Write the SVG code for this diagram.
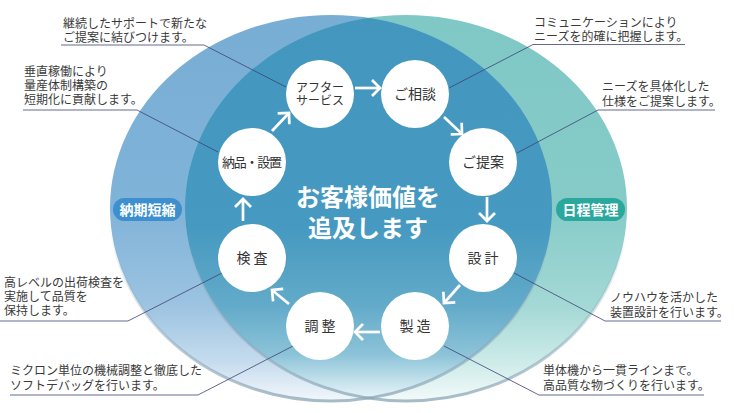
<svg xmlns="http://www.w3.org/2000/svg" width="734" height="413" viewBox="0 0 734 413">
<style>
.node circle{fill:#fff}
.nl{font-family:"Noto Sans CJK JP","Noto Sans",sans-serif;font-size:14px;fill:#333;text-anchor:middle}
.ann{font-family:"Noto Sans CJK JP","Noto Sans",sans-serif;font-size:12px;fill:#3a3a3a}
.lead{fill:none;stroke:#3d4273;stroke-width:0.8}
.arr{fill:none;stroke:#fff;stroke-width:2.7;marker-end:url(#ah)}
.badge{font-family:"Noto Sans CJK JP","Noto Sans",sans-serif;font-size:14px;font-weight:bold;fill:#fff;text-anchor:middle}
.title{font-family:"Noto Sans CJK JP","Noto Sans",sans-serif;font-size:24px;font-weight:bold;fill:#fff;text-anchor:middle}
</style>
<defs>
<linearGradient id="gL" gradientUnits="userSpaceOnUse" x1="0" y1="15" x2="0" y2="401">
<stop offset="0" stop-color="#78add4"/><stop offset="0.5" stop-color="#80b3d8"/><stop offset="0.75" stop-color="#9cc3e1"/><stop offset="0.9" stop-color="#c6dcee"/><stop offset="1" stop-color="#f2f7fb"/>
</linearGradient>
<linearGradient id="gR" gradientUnits="userSpaceOnUse" x1="0" y1="15" x2="0" y2="401">
<stop offset="0" stop-color="#7fc8c6"/><stop offset="0.5" stop-color="#86cbc8"/><stop offset="0.75" stop-color="#a3d8d5"/><stop offset="0.9" stop-color="#cdebe9"/><stop offset="1" stop-color="#f3faf9"/>
</linearGradient>
<linearGradient id="gD" gradientUnits="userSpaceOnUse" x1="0" y1="15" x2="0" y2="401">
<stop offset="0" stop-color="#4396be"/><stop offset="0.55" stop-color="#4699c0"/><stop offset="0.75" stop-color="#62aac9"/><stop offset="0.88" stop-color="#8cc3d8"/><stop offset="0.95" stop-color="#c5e2ec"/><stop offset="1" stop-color="#eef7fa"/>
</linearGradient>
<linearGradient id="gRim" gradientUnits="userSpaceOnUse" x1="0" y1="15" x2="0" y2="401">
<stop offset="0" stop-color="#8aa5b5" stop-opacity="0"/><stop offset="0.55" stop-color="#8aa5b5" stop-opacity="0"/><stop offset="1" stop-color="#8aa5b5" stop-opacity="0.75"/>
</linearGradient>
<clipPath id="cL"><ellipse cx="331" cy="208" rx="221" ry="193"/></clipPath>
<marker id="ah" markerUnits="userSpaceOnUse" markerWidth="20" markerHeight="20" viewBox="-10 -10 20 20" refX="0" refY="0" orient="auto" overflow="visible">
<path d="M-8,-8 L0,0 L-8,8" fill="none" stroke="#fff" stroke-width="2.7"/>
</marker>
</defs>

<g id="background">
<ellipse cx="331" cy="208" rx="221" ry="193" fill="url(#gL)"/>
<ellipse cx="406" cy="208" rx="221" ry="193" fill="url(#gR)"/>
<ellipse cx="406" cy="208" rx="221" ry="193" fill="url(#gD)" clip-path="url(#cL)"/>
<ellipse cx="331" cy="208" rx="221" ry="193" fill="none" stroke="url(#gRim)" stroke-width="3"/>
<ellipse cx="406" cy="208" rx="221" ry="193" fill="none" stroke="url(#gRim)" stroke-width="3"/>
</g>

<g id="badge-noki">
<rect x="113" y="198" width="69" height="23" rx="11.5" fill="#3d8fcf"/>
<text class="badge" x="147.5" y="215">納期短縮</text>
</g>
<g id="badge-nittei">
<rect x="556" y="198" width="69" height="23" rx="11.5" fill="#2aa89e"/>
<text class="badge" x="590.5" y="215">日程管理</text>
</g>

<g id="center-title">
<text class="title" x="368" y="206">お客様価値を<tspan x="368" dy="31">追及します</tspan></text>
</g>

<g id="connectors">
<path class="arr" d="M355,88 H380"/>
<path class="arr" d="M444,117 L462,134"/>
<path class="arr" d="M487,197 V221"/>
<path class="arr" d="M460,285 L444,303"/>
<path class="arr" d="M380,332 H355"/>
<path class="arr" d="M289,304 L272,290"/>
<path class="arr" d="M243,221 V199"/>
<path class="arr" d="M272,131 L289,113"/>
<path class="lead" d="M61,45 H204 L286,87"/>
<path class="lead" d="M23,110 H137 L218,152"/>
<path class="lead" d="M685,44.5 H533 L449,88"/>
<path class="lead" d="M715,110 H598 L517,153"/>
<path class="lead" d="M0,321 H128 L222,273"/>
<path class="lead" d="M10,395 H198 L293,346"/>
<path class="lead" d="M721,321 H605 L514,273"/>
<path class="lead" d="M704,395 H539 L444,346"/>
</g>

<g id="node-after" class="node">
<circle cx="320" cy="94" r="34"/>
<text class="nl" x="320" y="91.5" style="font-size:12px">アフター<tspan x="320" dy="13.5">サービス</tspan></text>
</g>
<g id="node-soudan" class="node">
<circle cx="415" cy="94" r="34"/>
<text class="nl" x="415" y="99">ご相談</text>
</g>
<g id="node-teian" class="node">
<circle cx="483" cy="162" r="34"/>
<text class="nl" x="483" y="167">ご提案</text>
</g>
<g id="node-sekkei" class="node">
<circle cx="483" cy="258" r="34"/>
<text class="nl" x="484.5" y="263" letter-spacing="3">設計</text>
</g>
<g id="node-seizou" class="node">
<circle cx="415" cy="326" r="34"/>
<text class="nl" x="416.5" y="331" letter-spacing="3">製造</text>
</g>
<g id="node-chousei" class="node">
<circle cx="320" cy="326" r="34"/>
<text class="nl" x="321.5" y="331" letter-spacing="3">調整</text>
</g>
<g id="node-kensa" class="node">
<circle cx="252" cy="258" r="34"/>
<text class="nl" x="253.5" y="263" letter-spacing="3">検査</text>
</g>
<g id="node-nouhin" class="node">
<circle cx="252" cy="162" r="34"/>
<text class="nl" x="252" y="167" style="font-size:13px" textLength="60" lengthAdjust="spacing">納品・設置</text>
</g>

<g id="annotations">
<text class="ann" x="63" y="27.5">継続したサポートで新たな<tspan x="63" dy="14">ご提案に結びつけます。</tspan></text>
<text class="ann" x="24" y="76">垂直稼働により<tspan x="24" dy="14">量産体制構築の</tspan><tspan x="24" dy="14">短期化に貢献します。</tspan></text>
<text class="ann" x="534" y="27">コミュニケーションにより<tspan x="534" dy="14">ニーズを的確に把握します。</tspan></text>
<text class="ann" x="602" y="91">ニーズを具体化した<tspan x="602" dy="15">仕様をご提案します。</tspan></text>
<text class="ann" x="4" y="287">高レベルの出荷検査を<tspan x="4" dy="14">実施して品質を</tspan><tspan x="4" dy="14">保持します。</tspan></text>
<text class="ann" x="10" y="375">ミクロン単位の機械調整と徹底した<tspan x="10" dy="15">ソフトデバッグを行います。</tspan></text>
<text class="ann" x="610" y="302">ノウハウを活かした<tspan x="610" dy="15">装置設計を行います。</tspan></text>
<text class="ann" x="543" y="375">単体機から一貫ラインまで。<tspan x="543" dy="15">高品質な物づくりを行います。</tspan></text>
</g>
</svg>
